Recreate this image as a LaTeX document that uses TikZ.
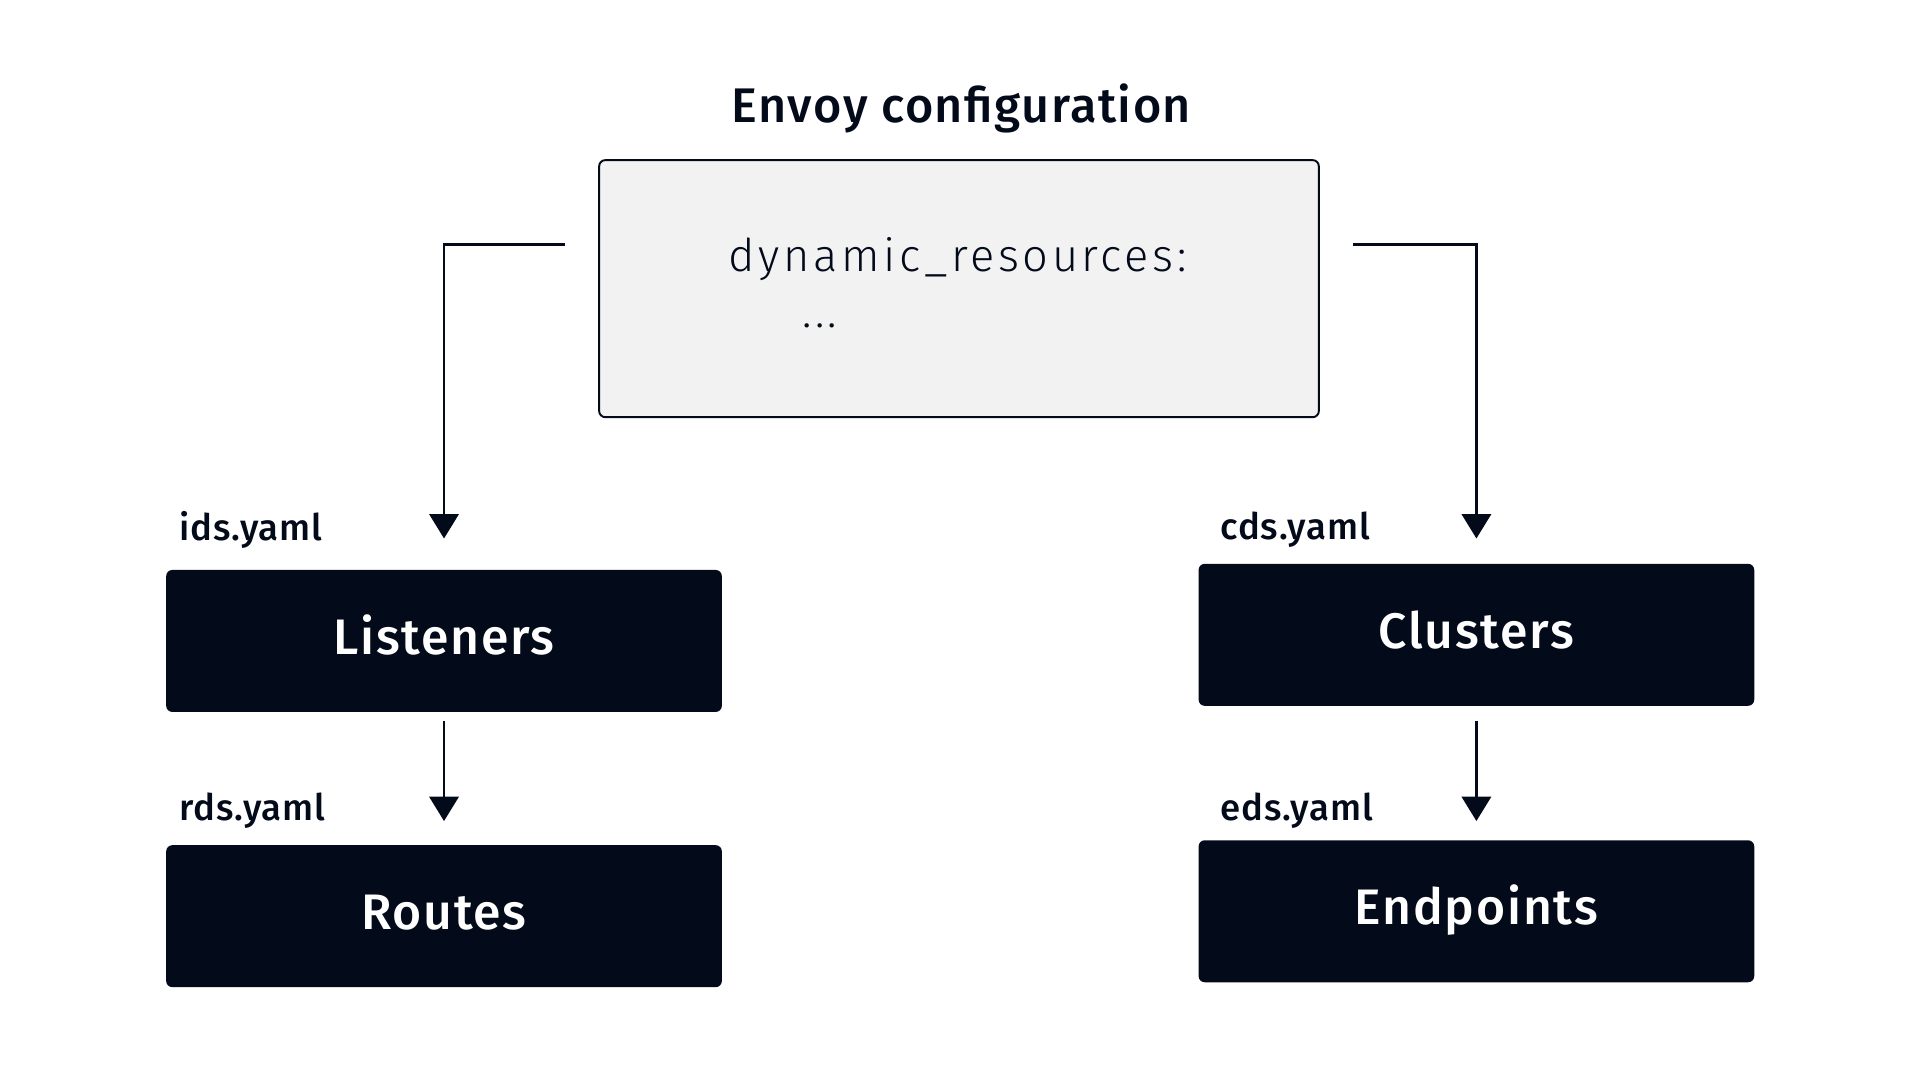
\documentclass[tikz,border=0pt]{standalone}
\usepackage{fontspec}
\setmainfont{Fira Sans}[BoldFont={Fira Sans Medium}]
\newfontfamily\titlefont{Fira Sans Medium}[LetterSpace=3]
\newfontfamily\codefont{Fira Sans Light}[LetterSpace=8]
\newfontfamily\boxfont{Fira Sans Medium}[LetterSpace=3.5]
\newfontfamily\tagfont{Fira Sans Medium}[LetterSpace=2.5]
\usetikzlibrary{arrows.meta, positioning}
\definecolor{envoynavy}{RGB}{3,10,26}
\definecolor{envoygray}{RGB}{242,242,242}

\begin{document}
\begin{tikzpicture}[x=0.01cm, y=-0.01cm,
            block/.style={minimum width=4.54cm, minimum height=1.16cm, rounded corners=0.05cm, inner sep=0pt,
                          text height=0.28cm, text depth=0.06cm},
            block name/.style={block, fill=envoynavy, text=white, font=\boxfont\fontsize{11.6}{14}\selectfont},
            file tag/.style={anchor=west, inner sep=0pt, text=envoynavy, font=\tagfont\fontsize{8.5}{10}\selectfont},
            flow/.style={-{Triangle[length=0.2cm, width=0.24cm]}, line width=0.6pt, draw=envoynavy}]

            \useasboundingbox (0,0) rectangle (1568,883);

            % Config file
            \node[font=\titlefont\fontsize{11.3}{13}\selectfont, text=envoynavy] (title) at (786,89) {Envoy configuration};
            \node[draw=envoynavy, fill=envoygray, line width=0.45pt, rounded corners=0.05cm,
                  minimum width=5.88cm, minimum height=2.10cm] (cfg) at (784,236) {};
            \node[anchor=base west, inner sep=0pt, text=envoynavy, font=\codefont\fontsize{10.5}{13}\selectfont] (code) at (595,222) {dynamic\_resources:};
            \node[anchor=base west, inner sep=0pt, text=envoynavy, font=\codefont\fontsize{10.5}{13}\selectfont] (dots) at (655,268) {...};

            % Resources
            \node[block name] (lst) at (363,524) {Listeners};
            \node[block name] (rts) at (363,749) {Routes};
            \node[block name] (cls) at (1207,519) {Clusters};
            \node[block name] (eps) at (1207,745) {Endpoints};

            \node[file tag] (ids) at (146,433) {ids.yaml};
            \node[file tag] (rds) at (146,663) {rds.yaml};
            \node[file tag] (cds) at (997,433) {cds.yaml};
            \node[file tag] (eds) at (997,663) {eds.yaml};

            % Discovery arrows
            \coordinate (lfork) at ([xshift=-0.27cm, yshift=0.36cm]cfg.west);
            \coordinate (rfork) at ([xshift=0.27cm, yshift=0.36cm]cfg.east);
            \draw[flow] (lfork) -| ([yshift=0.25cm]lst.north);
            \draw[flow] (rfork) -| ([yshift=0.20cm]cls.north);
            \draw[flow] ([yshift=-0.07cm]lst.south) -- ([yshift=0.19cm]rts.north);
            \draw[flow] ([yshift=-0.12cm]cls.south) -- ([yshift=0.15cm]eps.north);
        \end{tikzpicture}
\end{document}
